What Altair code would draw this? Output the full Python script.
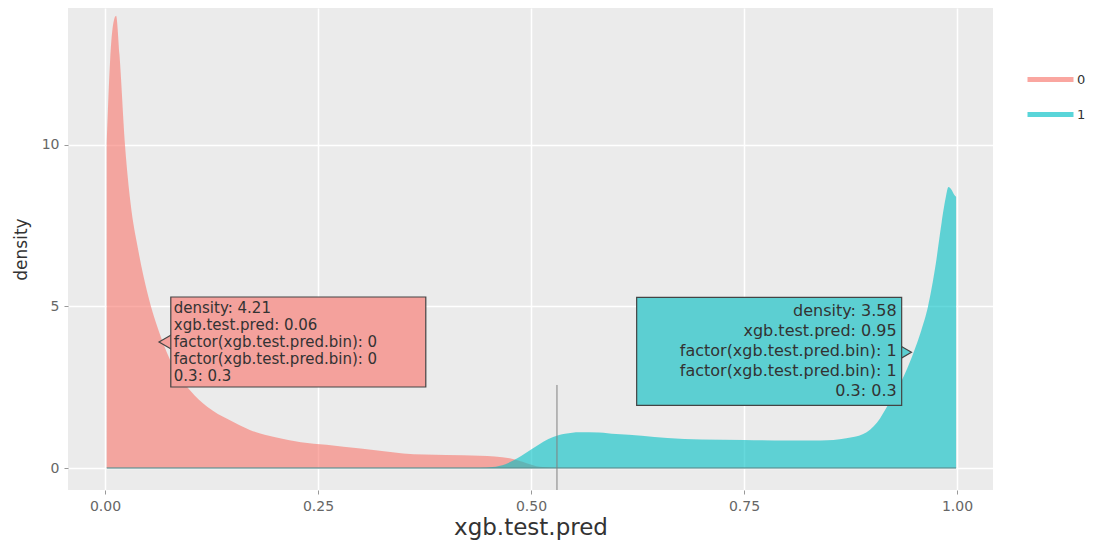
import altair as alt
import pandas as pd

# ---------------- data ----------------
classes = ["0", "1"]
class_colors = ["#F8766D", "#00BFC4"]

# density curve of class "0"
x0 = [0.002, 0.006, 0.010, 0.013, 0.017, 0.0235, 0.030, 0.039, 0.050, 0.065,
      0.080, 0.100, 0.120, 0.145, 0.170, 0.200, 0.230, 0.260, 0.300, 0.350,
      0.400, 0.440, 0.475, 0.495, 0.510, 0.540, 0.600, 0.800, 0.999]
d0 = [10.0, 12.6, 13.8, 14.0, 12.8, 10.0, 8.2, 6.75, 5.4, 4.1,
      3.15, 2.4, 1.9, 1.5, 1.18, 0.95, 0.80, 0.72, 0.60, 0.45,
      0.40, 0.38, 0.30, 0.15, 0.04, 0.0, 0.0, 0.0, 0.0]

# density curve of class "1"
x1 = [0.002, 0.200, 0.440, 0.455, 0.470, 0.484, 0.502, 0.515, 0.526, 0.540,
      0.557, 0.580, 0.600, 0.630, 0.660, 0.700, 0.750, 0.800, 0.840, 0.870,
      0.890, 0.906, 0.920, 0.935, 0.948, 0.958, 0.966, 0.975, 0.982, 0.987,
      0.990, 0.994, 0.997, 0.999]
d1 = [0.0, 0.0, 0.0, 0.03, 0.12, 0.30, 0.60, 0.82, 0.96, 1.06,
      1.11, 1.10, 1.05, 1.00, 0.93, 0.88, 0.87, 0.85, 0.85, 0.92,
      1.05, 1.40, 2.00, 2.70, 3.50, 4.25, 5.00, 6.30, 7.60, 8.40,
      8.70, 8.60, 8.45, 8.40]

# hover state shown in the picture
hover_x = [0.062, 0.948]
hover_y = [3.90, 3.58]
tip_lines_0 = ["density: 4.21", "xgb.test.pred: 0.06",
               "factor(xgb.test.pred.bin): 0", "factor(xgb.test.pred.bin): 0",
               "0.3: 0.3"]
tip_lines_1 = ["density: 3.58", "xgb.test.pred: 0.95",
               "factor(xgb.test.pred.bin): 1", "factor(xgb.test.pred.bin): 1",
               "0.3: 0.3"]
spike_x = [0.5305]
spike_top = [2.57]

x_ticks = [0.0, 0.25, 0.5, 0.75, 1.0]
y_ticks = [0, 5, 10]
x_domain = [-0.0434, 1.0423]
y_domain = [-0.681, 14.24]

# ---------------- chart ----------------
FONT = "DejaVu Sans"
W, H = 925, 482

dens = pd.DataFrame({
    "x": x0 + x1,
    "density": d0 + d1,
    "cls": [classes[0]] * len(x0) + [classes[1]] * len(x1),
})

xs = alt.Scale(domain=x_domain, nice=False, zero=False)
ys = alt.Scale(domain=y_domain, nice=False, zero=False)

x_axis = alt.Axis(values=x_ticks, format=".2f", grid=True, gridColor="white",
                  gridWidth=1.5, domain=False, ticks=True, tickSize=4,
                  tickColor="#999999", labelColor="#666666", labelFont=FONT,
                  labelFontSize=14, labelPadding=5, titleFont=FONT,
                  titleFontSize=23, titleColor="#333333", titleFontWeight="normal",
                  titlePadding=3)
y_axis = alt.Axis(values=y_ticks, format="d", grid=True, gridColor="white",
                  gridWidth=1.5, domain=False, ticks=True, tickSize=4,
                  tickColor="#999999", labelColor="#666666", labelFont=FONT,
                  labelFontSize=14, labelPadding=5, titleFont=FONT,
                  titleFontSize=17, titleColor="#333333", titleFontWeight="normal",
                  titlePadding=11)

X = alt.X("x:Q", scale=xs, axis=x_axis, title="xgb.test.pred")
Y = alt.Y("density:Q", scale=ys, axis=y_axis, title="density", stack=None)

areas = alt.Chart(dens).mark_area(opacity=0.6, interpolate="monotone").encode(
    x=X,
    y=Y,
    y2=alt.datum(0),
    color=alt.Color(
        "cls:N",
        scale=alt.Scale(domain=classes, range=class_colors),
        legend=alt.Legend(
            title=None, orient="none", legendX=976, legendY=65,
            symbolType="M-4.6,-0.5H4.6V0.5H-4.6Z", symbolSize=100,
            symbolStrokeWidth=0, symbolOpacity=0.65, labelOffset=20,
            rowPadding=21, padding=0, labelFont=FONT, labelFontSize=13,
            labelColor="#333333",
        ),
    ),
)

baseline = alt.Chart(dens).mark_rule(color="#5b8f90", strokeWidth=1.5, opacity=0.8).encode(
    x=alt.X("min(x):Q", scale=xs, axis=x_axis, title="xgb.test.pred"),
    x2="max(x):Q",
    y=alt.datum(0),
)

spike_df = pd.DataFrame({"x": spike_x, "density": spike_top})
spike = alt.Chart(spike_df).mark_rule(color="#808080", strokeWidth=1).encode(
    x=X, y=Y, y2=alt.value(H)
)


def tooltip(idx, lines, fill, side):
    df = pd.DataFrame({"x": [hover_x[idx]], "density": [hover_y[idx]],
                       "label": ["\n".join(lines)]})
    base = alt.Chart(df)
    if side == "right":
        tri = base.mark_point(shape="triangle-left", size=324, filled=True,
                              fill=fill, stroke="#444444", strokeWidth=1.2,
                              opacity=1, fillOpacity=1, xOffset=9)
        box = base.mark_rect(fill=fill, stroke="#444444", strokeWidth=1.2,
                             xOffset=13, x2Offset=268, yOffset=-45, y2Offset=45)
        txt = base.mark_text(align="left", baseline="top", dx=16, dy=-41,
                             lineBreak="\n", lineHeight=17, font=FONT,
                             fontSize=15, color="#333333")
    else:
        tri = base.mark_point(shape="triangle-right", size=324, filled=True,
                              fill=fill, stroke="#444444", strokeWidth=1.2,
                              opacity=1, fillOpacity=1, xOffset=-9)
        box = base.mark_rect(fill=fill, stroke="#444444", strokeWidth=1.2,
                             xOffset=-276, x2Offset=-11, yOffset=-55, y2Offset=53)
        txt = base.mark_text(align="right", baseline="top", dx=-16, dy=-49,
                             lineBreak="\n", lineHeight=20, font=FONT,
                             fontSize=16, color="#333333")
    return [
        tri.encode(x=X, y=Y),
        box.encode(x=X, x2="x:Q", y=Y, y2="density:Q"),
        txt.encode(x=X, y=Y, text="label:N"),
    ]


layers = [areas, baseline, spike]
layers += tooltip(0, tip_lines_0, "#F4A19C", "right")
layers += tooltip(1, tip_lines_1, "#5CCFD2", "left")

chart = alt.layer(*layers).properties(
    width=W, height=H,
    padding={"left": 60, "top": 0, "right": 98, "bottom": 50},
    autosize=alt.AutoSizeParams(type="none"),
    background="white",
).configure_view(fill="#EBEBEB", stroke=None)

chart.save("out.html", embed_options={"renderer": "svg", "actions": False})
